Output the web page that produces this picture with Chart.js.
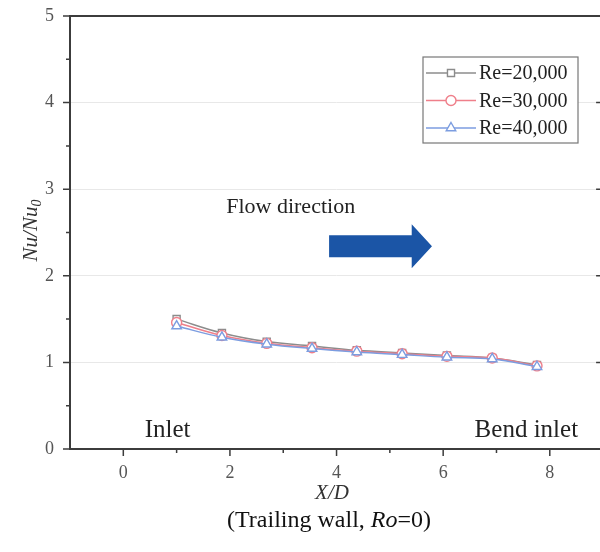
<!DOCTYPE html>
<html>
<head>
<meta charset="utf-8">
<script src="https://cdn.jsdelivr.net/npm/chart.js@4/dist/chart.umd.min.js"></script>
<style>
    html, body { margin: 0; padding: 0; background: #fff; overflow: hidden; }
    #wrap { width: 610px; height: 552px; }
</style>
</head>
<body>
<div id="wrap"><canvas id="nuChart" width="610" height="552"></canvas></div>
<script>
// X/D positions of the measuring stations
const xOverD = [1.0, 1.85, 2.69, 3.54, 4.38, 5.23, 6.07, 6.92, 7.76];

// Nu/Nu0 for each Reynolds number
const re20000 = [1.50, 1.34, 1.24, 1.19, 1.14, 1.11, 1.08, 1.05, 0.97];
const re30000 = [1.46, 1.31, 1.22, 1.17, 1.13, 1.10, 1.07, 1.05, 0.96];
const re40000 = [1.42, 1.29, 1.21, 1.16, 1.12, 1.09, 1.06, 1.04, 0.95];

const seriesLabels = ["Re=20,000", "Re=30,000", "Re=40,000"];

const xTickValues = [0, 2, 4, 6, 8];
const xMinorTicks = [1, 3, 5, 7];
const yTickValues = [0, 1, 2, 3, 4, 5];
const yMinorTicks = [0.5, 1.5, 2.5, 3.5, 4.5];

const SERIF = "'Liberation Serif', 'Times New Roman', serif";
const AXIS_COLOR = "#3c3c3c";

function toPoints(ys) {
    return ys.map((y, i) => ({ x: xOverD[i], y: y }));
}

function makeDataset(label, values, color, style, order) {
    return {
        label: label,
        data: toPoints(values),
        showLine: true,
        tension: 0.4,
        borderColor: color,
        borderWidth: 1.5,
        pointStyle: style,
        pointRadius: style === "triangle" ? 5.5 : 5,
        pointBorderColor: color,
        pointBackgroundColor: "#fff",
        pointBorderWidth: 1.4,
        order: order,
    };
}

function drawMarker(ctx, ds, x, y) {
    ctx.fillStyle = "#fff";
    ctx.strokeStyle = ds.borderColor;
    ctx.lineWidth = ds.pointBorderWidth;
    Chart.helpers.drawPoint(ctx, {
        pointStyle: ds.pointStyle,
        radius: ds.pointRadius,
        borderWidth: ds.pointBorderWidth,
        rotation: 0,
    }, x, y);
}

// axes frame, tick marks, titles and text notes
const framePlugin = {
    id: "frame",
    afterDraw(chart) {
        const ctx = chart.ctx;
        const a = chart.chartArea;
        const xs = chart.scales.x;
        const ys = chart.scales.y;
        ctx.save();
        ctx.strokeStyle = AXIS_COLOR;
        ctx.lineWidth = 2;
        ctx.strokeRect(a.left, a.top, a.right - a.left, a.bottom - a.top);

        ctx.lineWidth = 1.5;
        ctx.beginPath();
        xTickValues.forEach((v) => {
            const px = xs.getPixelForValue(v);
            ctx.moveTo(px, a.bottom); ctx.lineTo(px, a.bottom + 7);
        });
        xMinorTicks.forEach((v) => {
            const px = xs.getPixelForValue(v);
            ctx.moveTo(px, a.bottom); ctx.lineTo(px, a.bottom + 4);
        });
        yTickValues.forEach((v) => {
            const py = ys.getPixelForValue(v);
            ctx.moveTo(a.left, py); ctx.lineTo(a.left - 7, py);
            ctx.moveTo(a.right, py); ctx.lineTo(a.right - 7, py);
        });
        yMinorTicks.forEach((v) => {
            const py = ys.getPixelForValue(v);
            ctx.moveTo(a.left, py); ctx.lineTo(a.left - 4, py);
        });
        ctx.stroke();

        // y title Nu/Nu0
        ctx.fillStyle = "#333";
        ctx.save();
        ctx.translate(31, (a.top + a.bottom) / 2 - 2);
        ctx.rotate(-Math.PI / 2);
        ctx.font = "italic 21px " + SERIF;
        ctx.textBaseline = "middle";
        const main = "Nu/Nu";
        const w1 = ctx.measureText(main).width;
        ctx.font = "italic 14px " + SERIF;
        const w2 = ctx.measureText("0").width;
        const start = -(w1 + w2) / 2;
        ctx.font = "italic 21px " + SERIF;
        ctx.textAlign = "left";
        ctx.fillText(main, start, 0);
        ctx.font = "italic 14px " + SERIF;
        ctx.fillText("0", start + w1, 6);
        ctx.restore();

        // x title
        ctx.textAlign = "center";
        ctx.textBaseline = "middle";
        ctx.font = "italic 21px " + SERIF;
        ctx.fillText("X/D", 332, 493);

        // caption with italic Ro
        ctx.fillStyle = "#111";
        const parts = [
            ["(Trailing wall, ", "24px "],
            ["Ro", "italic 24px "],
            ["=0)", "24px "],
        ];
        let total = 0;
        parts.forEach((p) => { ctx.font = p[1] + SERIF; total += ctx.measureText(p[0]).width; });
        let cx = 329 - total / 2;
        ctx.textAlign = "left";
        parts.forEach((p) => {
            ctx.font = p[1] + SERIF;
            ctx.fillText(p[0], cx, 521);
            cx += ctx.measureText(p[0]).width;
        });

        // notes inside the plot
        ctx.fillStyle = "#222";
        ctx.font = "22px " + SERIF;
        ctx.fillText("Flow direction", xs.getPixelForValue(1.93), ys.getPixelForValue(2.79));
        ctx.font = "25px " + SERIF;
        ctx.fillText("Inlet", xs.getPixelForValue(0.40), ys.getPixelForValue(0.22));
        ctx.fillText("Bend inlet", xs.getPixelForValue(6.59), ys.getPixelForValue(0.22));

        // flow arrow
        const ax0 = xs.getPixelForValue(3.86);
        const ax1 = xs.getPixelForValue(5.41);
        const ax2 = xs.getPixelForValue(5.79);
        const ay = ys.getPixelForValue(2.34);
        ctx.fillStyle = "#1b55a6";
        ctx.beginPath();
        ctx.moveTo(ax0, ay - 11);
        ctx.lineTo(ax1, ay - 11);
        ctx.lineTo(ax1, ay - 22);
        ctx.lineTo(ax2, ay);
        ctx.lineTo(ax1, ay + 22);
        ctx.lineTo(ax1, ay + 11);
        ctx.lineTo(ax0, ay + 11);
        ctx.closePath();
        ctx.fill();

        // legend box with line + marker samples
        const lx = 423, ly = 57, lw = 155, lh = 86;
        ctx.fillStyle = "#fff";
        ctx.fillRect(lx, ly, lw, lh);
        ctx.strokeStyle = "#777";
        ctx.lineWidth = 1.2;
        ctx.strokeRect(lx, ly, lw, lh);
        chart.data.datasets.forEach((ds, i) => {
            const ry = 73 + i * 27.5;
            ctx.strokeStyle = ds.borderColor;
            ctx.lineWidth = 1.5;
            ctx.beginPath();
            ctx.moveTo(lx + 3, ry);
            ctx.lineTo(lx + 53, ry);
            ctx.stroke();
            drawMarker(ctx, ds, lx + 28, ry);
            ctx.fillStyle = "#222";
            ctx.font = "20px " + SERIF;
            ctx.textAlign = "left";
            ctx.textBaseline = "middle";
            ctx.fillText(ds.label, lx + 56, ry + 1);
        });
        ctx.restore();
    },
};

const config = {
    type: "scatter",
    data: {
        datasets: [
            makeDataset(seriesLabels[0], re20000, "#8c8c8c", "rect", 3),
            makeDataset(seriesLabels[1], re30000, "#ef7f8a", "circle", 2),
            makeDataset(seriesLabels[2], re40000, "#7c9de0", "triangle", 1),
        ],
    },
    options: {
        responsive: false,
        devicePixelRatio: 1,
        animation: false,
        layout: { padding: { top: 16, right: 5, left: 0, bottom: 0 } },
        plugins: {
            legend: { display: false },
            tooltip: { enabled: false },
        },
        scales: {
            x: {
                type: "linear",
                min: -1,
                max: 9,
                afterBuildTicks: (axis) => { axis.ticks = xTickValues.map((v) => ({ value: v })); },
                afterFit: (axis) => {
                    axis.height = 103;
                    axis.paddingLeft = 0;
                    axis.paddingRight = 0;
                },
                grid: { display: false, drawTicks: false },
                border: { display: false },
                ticks: {
                    padding: 13,
                    color: "#555",
                    font: { family: SERIF, size: 18 },
                },
            },
            y: {
                type: "linear",
                min: 0,
                max: 5,
                afterBuildTicks: (axis) => { axis.ticks = yTickValues.map((v) => ({ value: v })); },
                afterFit: (axis) => {
                    axis.width = 70;
                    axis.paddingTop = 0;
                    axis.paddingBottom = 0;
                },
                grid: { color: "#e8e8e8", lineWidth: 1, drawTicks: false },
                border: { display: false },
                ticks: {
                    padding: 16,
                    color: "#555",
                    font: { family: SERIF, size: 18 },
                },
            },
        },
    },
    plugins: [framePlugin],
};

new Chart(document.getElementById("nuChart"), config);
</script>
</body>
</html>
